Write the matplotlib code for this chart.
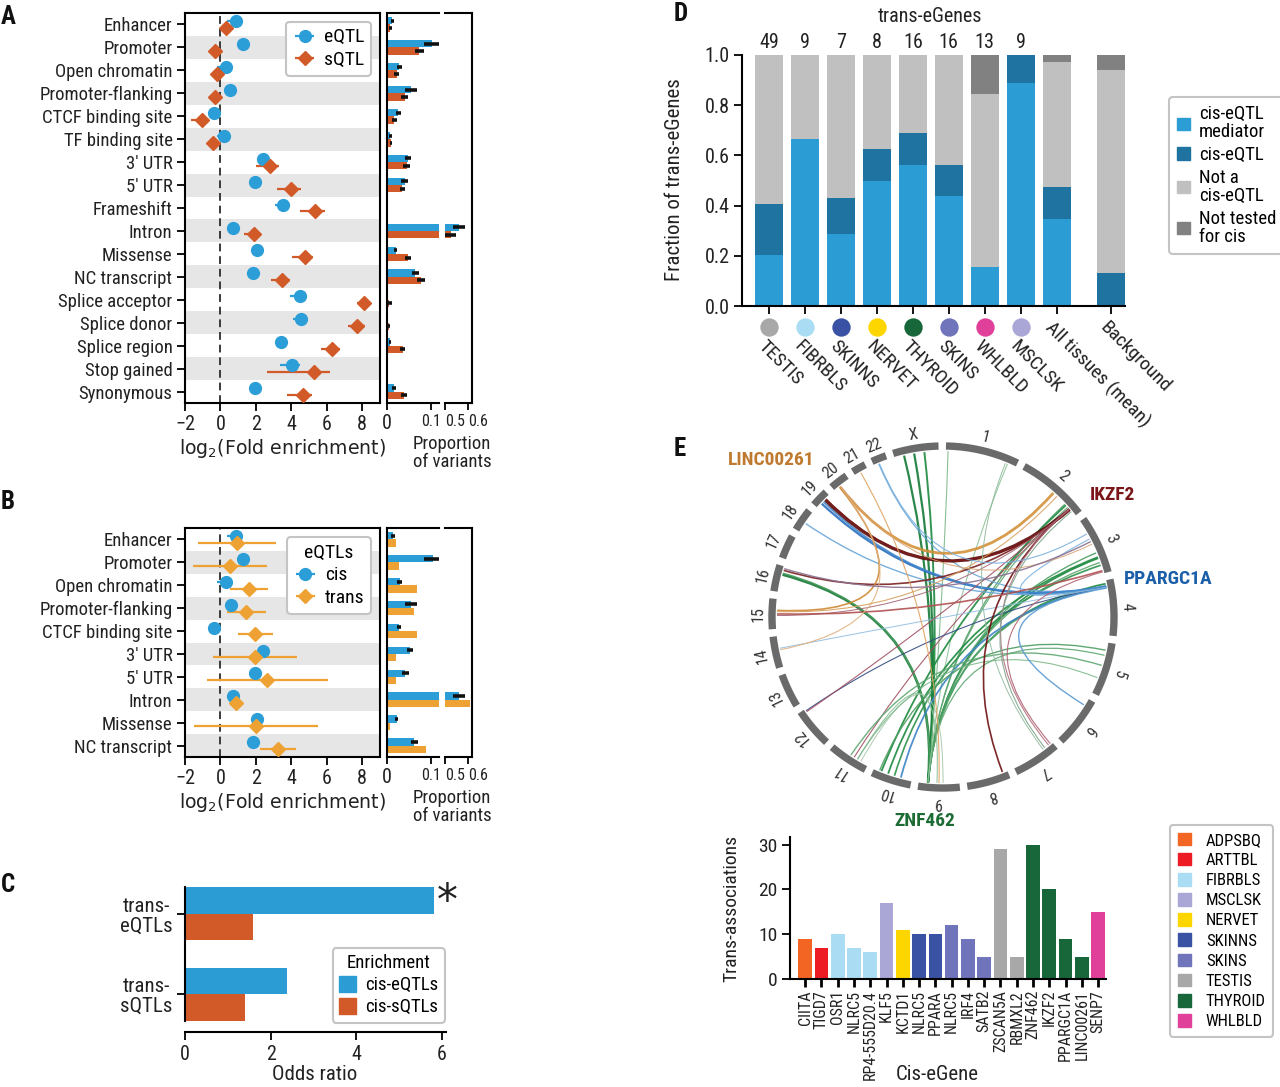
import numpy as np
import matplotlib
matplotlib.use('Agg')
import matplotlib.pyplot as plt
from matplotlib import font_manager
from matplotlib.patches import Patch, PathPatch
from matplotlib.path import Path
import matplotlib.transforms as mtransforms

names = {f.name for f in font_manager.fontManager.ttflist}
NARROW = 'Liberation Sans'
for p in ['Roboto Condensed', 'Liberation Sans Narrow', 'Archivo Narrow', 'Noto Sans Condensed']:
    if p in names:
        NARROW = p
        break
plt.rcParams['font.family'] = [NARROW, 'DejaVu Sans']
plt.rcParams['axes.linewidth'] = 1.5
plt.rcParams['xtick.major.width'] = 1.3
plt.rcParams['ytick.major.width'] = 1.3

# ---------------- data ----------------
a_categories = ['Enhancer', 'Promoter', 'Open chromatin', 'Promoter-flanking', 'CTCF binding site',
                'TF binding site', "3' UTR", "5' UTR", 'Frameshift', 'Intron', 'Missense',
                'NC transcript', 'Splice acceptor', 'Splice donor', 'Splice region', 'Stop gained',
                'Synonymous']
a_eqtl_fe = [0.90, 1.27, 0.32, 0.56, -0.37, 0.22, 2.40, 1.97, 3.52, 0.69, 2.08, 1.84, 4.48, 4.55, 3.41, 4.04, 1.97]
a_eqtl_lo = [0.37, 1.15, -0.19, 0.40, -0.50, -0.19, 2.25, 1.85, 3.09, 0.60, 1.98, 1.72, 3.93, 4.08, 3.20, 3.37, 1.88]
a_eqtl_hi = [1.25, 1.40, 0.66, 0.72, -0.25, 0.55, 2.55, 2.10, 3.93, 0.80, 2.18, 1.96, 4.87, 4.90, 3.62, 4.49, 2.06]
a_sqtl_fe = [0.34, -0.28, -0.22, -0.32, -1.03, -0.41, 2.77, 4.00, 5.36, 1.87, 4.78, 3.48, 8.11, 7.73, 6.29, 5.28, 4.63]
a_sqtl_lo = [0.20, -0.40, -0.35, -0.45, -1.65, -0.55, 1.98, 3.18, 4.49, 1.31, 4.03, 2.85, 7.68, 7.21, 5.67, 2.62, 3.78]
a_sqtl_hi = [0.48, -0.15, -0.10, -0.20, -0.62, -0.27, 3.28, 4.53, 5.90, 2.25, 5.24, 3.93, 8.43, 8.15, 6.74, 6.18, 5.19]
a_eqtl_prop = [0.0125, 0.104, 0.028, 0.055, 0.026, 0.008, 0.049, 0.041, 0.0008, 0.562, 0.020, 0.065, 0.001, 0.0006, 0.007, 0.0004, 0.016]
a_eqtl_prop_err = [0.004, 0.020, 0.006, 0.013, 0.005, 0.003, 0.007, 0.008, 0.0, 0.027, 0.004, 0.008, 0.0, 0.0, 0.003, 0.0, 0.004]
a_sqtl_prop = [0.008, 0.074, 0.022, 0.041, 0.017, 0.009, 0.045, 0.035, 0.0008, 0.526, 0.048, 0.078, 0.005, 0.004, 0.036, 0.0004, 0.039]
a_sqtl_prop_err = [0.003, 0.010, 0.005, 0.008, 0.005, 0.003, 0.008, 0.006, 0.0, 0.024, 0.006, 0.010, 0.006, 0.003, 0.006, 0.0, 0.006]

b_categories = ['Enhancer', 'Promoter', 'Open chromatin', 'Promoter-flanking', 'CTCF binding site',
                "3' UTR", "5' UTR", 'Intron', 'Missense', 'NC transcript']
b_cis_fe = [0.86, 1.25, 0.32, 0.58, -0.39, 2.40, 1.97, 0.69, 2.08, 1.84]
b_cis_lo = [0.37, 1.15, -0.19, 0.40, -0.50, 2.25, 1.85, 0.60, 1.98, 1.72]
b_cis_hi = [1.25, 1.40, 0.66, 0.72, -0.25, 2.55, 2.10, 0.80, 2.18, 1.96]
b_trans_fe = [0.94, 0.56, 1.59, 1.46, 1.97, 1.97, 2.62, 0.90, 2.00, 3.22]
b_trans_lo = [-1.25, -1.54, 0.56, 0.37, 0.97, -0.41, -0.75, 0.56, -1.50, 2.21]
b_trans_hi = [3.15, 2.62, 2.66, 2.57, 2.96, 4.31, 6.05, 1.22, 5.49, 4.27]
b_cis_prop = [0.014, 0.105, 0.029, 0.055, 0.028, 0.052, 0.042, 0.562, 0.022, 0.062]
b_cis_prop_err = [0.004, 0.020, 0.006, 0.013, 0.005, 0.007, 0.008, 0.027, 0.004, 0.008]
b_trans_prop = [0.021, 0.028, 0.069, 0.063, 0.069, 0.021, 0.021, 0.610, 0.008, 0.090]

c_categories = ['trans-\neQTLs', 'trans-\nsQTLs']
c_cis_eqtl_or = [5.81, 2.39]
c_cis_sqtl_or = [1.60, 1.40]

d_tissues = ['TESTIS', 'FIBRBLS', 'SKINNS', 'NERVET', 'THYROID', 'SKINS', 'WHLBLD', 'MSCLSK',
             'All tissues (mean)', 'Background']
d_counts = ['49', '9', '7', '8', '16', '16', '13', '9']
d_mediator = [0.204, 0.667, 0.286, 0.500, 0.5625, 0.4375, 0.154, 0.889, 0.346, 0.0]
d_cis = [0.204, 0.0, 0.143, 0.125, 0.125, 0.125, 0.0, 0.111, 0.128, 0.132]
d_not_cis = [0.592, 0.333, 0.571, 0.375, 0.3125, 0.4375, 0.692, 0.0, 0.500, 0.810]
d_not_tested = [0.0, 0.0, 0.0, 0.0, 0.0, 0.0, 0.154, 0.0, 0.026, 0.058]
d_series = ['cis-eQTL\nmediator', 'cis-eQTL', 'Not a\ncis-eQTL', 'Not tested\nfor cis']

tissue_names = ['ADPSBQ', 'ARTTBL', 'FIBRBLS', 'MSCLSK', 'NERVET', 'SKINNS', 'SKINS', 'TESTIS', 'THYROID', 'WHLBLD']
tissue_colors = ['#F26522', '#ED1C24', '#AADDF3', '#AAA6D6', '#FDD600', '#3A52A3', '#6F74BB', '#A8A8A8', '#18673A', '#E0409A']

e_genes = ['CIITA', 'TIGD7', 'OSR1', 'NLRC5', 'RP4-555D20.4', 'KLF5', 'KCTD1', 'NLRC5', 'PPARA', 'NLRC5',
           'IRF4', 'SATB2', 'ZSCAN5A', 'RBMXL2', 'ZNF462', 'IKZF2', 'PPARGC1A', 'LINC00261', 'SENP7']
e_counts = [9, 7, 10, 7, 6, 17, 11, 10, 10, 12, 9, 5, 29, 5, 30, 20, 9, 5, 15]
e_tissue = ['ADPSBQ', 'ARTTBL', 'FIBRBLS', 'FIBRBLS', 'FIBRBLS', 'MSCLSK', 'NERVET', 'SKINNS', 'SKINNS',
            'SKINS', 'SKINS', 'SKINS', 'TESTIS', 'TESTIS', 'THYROID', 'THYROID', 'THYROID', 'THYROID', 'WHLBLD']

chrom_names = ['1', '2', '3', '4', '5', '6', '7', '8', '9', '10', '11', '12', '13', '14', '15', '16',
               '17', '18', '19', '20', '21', '22', 'X']
chrom_sizes_mb = [249, 243, 198, 191, 181, 171, 159, 146, 141, 136, 135, 134, 115, 107, 103, 90,
                  81, 78, 59, 63, 48, 51, 155]

link_chr_a = ['9', '9', '9', '9', '9', '9', '9', '9', '9', '9', '9', '9', '9', '9', '9',
              '10', '10', '10', '10', '11', '11', '11', '5', '5', '5',
              '4', '4', '4', '4', '4', '4', '4', '4',
              '2', '2', '2', '2', '2', '2', '2', '3', '3',
              '20', '20', '20', '21', '20', '15', '3', '7', '7', '22']
link_pos_a = [0.77, 0.77, 0.77, 0.77, 0.77, 0.77, 0.77, 0.77, 0.77, 0.77, 0.77, 0.77, 0.77, 0.77, 0.77,
              0.80, 0.62, 0.45, 0.28, 0.30, 0.20, 0.40, 0.15, 0.45, 0.70,
              0.12, 0.13, 0.11, 0.12, 0.14, 0.12, 0.12, 0.10,
              0.88, 0.89, 0.88, 0.88, 0.87, 0.87, 0.88, 0.95, 0.97,
              0.36, 0.34, 0.38, 0.45, 0.40, 0.58, 0.40, 0.20, 0.25, 0.40]
link_chr_b = ['X', 'X', 'X', '1', '16', '16', '2', '2', '3', '3', '3', '4', '4', '5', '1',
              '2', '3', '3', '4', '9', '9', '2', '10', '11', '11',
              '19', '18', '22', '12', '6', '3', '14', '19',
              '19', '19', '16', '12', '8', '7', '15', '15', '7',
              '2', '15', '14', '9', '3', '2', '16', '2', '1', '3']
link_pos_b = [0.22, 0.45, 0.68, 0.03, 0.68, 0.74, 0.78, 0.84, 0.62, 0.72, 0.80, 0.06, 0.10, 0.25, 0.88,
              0.80, 0.70, 0.85, 0.12, 0.55, 0.40, 0.88, 0.85, 0.50, 0.30,
              0.35, 0.45, 0.35, 0.95, 0.15, 0.35, 0.60, 0.50,
              0.65, 0.72, 0.85, 0.92, 0.12, 0.10, 0.45, 0.50, 0.05,
              0.55, 0.62, 0.55, 0.50, 0.45, 0.62, 0.92, 0.92, 0.85, 0.25]
link_color = ['#157A36', '#157A36', '#1E8A40', '#7DB88A', '#157A36', '#4E9E62', '#4E9E62', '#5FA872',
              '#4E9E62', '#1E8A40', '#5FA872', '#1E8A40', '#5FA872', '#5FA872', '#8FC49A',
              '#1E8A40', '#1E8A40', '#2A9048', '#3D85C6', '#8FBF98', '#A3C4A8', '#A05060',
              '#4E9E62', '#5FA872', '#7DB88A',
              '#2A6FBF', '#6AA6D8', '#6AA6D8', '#304A80', '#5A9AD0', '#7AB0DC', '#8DBBE0', '#3F86CC',
              '#5A0A0A', '#7A1A1A', '#7A2020', '#A05060', '#6E1010', '#B07080', '#A06070', '#B05050', '#B06070',
              '#D4913A', '#D08A35', '#E0B080', '#E0A060', '#D8A070', '#D8A060', '#8A7090', '#7FA58A',
              '#8FB89A', '#7AB0DC']
link_width = [1.6, 1.6, 1.4, 0.8, 1.9, 1.0, 0.9, 0.9, 1.0, 1.2, 1.0, 1.3, 0.9, 0.9, 0.8,
              1.3, 1.3, 1.2, 1.3, 0.8, 0.7, 0.8, 1.0, 1.0, 0.8,
              1.6, 1.0, 0.9, 0.8, 1.0, 0.8, 0.7, 1.2,
              2.4, 1.2, 1.2, 0.8, 1.2, 0.8, 0.7, 1.2, 0.8,
              2.0, 1.2, 0.8, 0.8, 0.7, 0.8, 1.0, 0.8, 0.7, 0.8]

# ---------------- styling ----------------
BLUE = '#2B9ED7'
ORANGE = '#D25A28'
GOLD = '#EFA234'
BAND = '#E6E6E6'
TXT = '#222222'
MED, CIS, NOTA, NOTT = '#2B9CD4', '#1F73A0', '#C0C0C0', '#818181'
LEG = dict(frameon=True, fancybox=True, edgecolor='#c4c4c4', framealpha=1, borderaxespad=0)

W, H = 1280, 1087
fig = plt.figure(figsize=(W / 100, H / 100), dpi=100)


def px_axes(l, t, r, b):
    return fig.add_axes([l / W, 1 - b / H, (r - l) / W, (b - t) / H])


def ftext(x, y, s, **kw):
    return fig.text(x / W, 1 - y / H, s, **kw)


def forest(top, bottom, cats, fe1, lo1, hi1, fe2, lo2, hi2, p1, p1e, p2, p2e, c2,
           leg_labels, leg_title, leg_anchor):
    n = len(cats)
    y = np.arange(n)
    fe1, lo1, hi1 = map(np.array, (fe1, lo1, hi1))
    fe2, lo2, hi2 = map(np.array, (fe2, lo2, hi2))
    ax = px_axes(185, top, 380, bottom)
    for i in range(1, n, 2):
        ax.axhspan(i - 0.5, i + 0.5, color=BAND, lw=0, zorder=0)
    ax.axvline(0, color='#3a3a3a', lw=1.4, ls=(0, (4, 2.5)), zorder=1)
    h1 = ax.errorbar(fe1, y - 0.15, xerr=[fe1 - lo1, hi1 - fe1], fmt='o', ms=8.5, color=BLUE,
                     ecolor=BLUE, elinewidth=1.6, capsize=0, zorder=3)
    h2 = ax.errorbar(fe2, y + 0.15, xerr=[fe2 - lo2, hi2 - fe2], fmt='D', ms=7, color=c2,
                     ecolor=c2, elinewidth=1.6, capsize=0, zorder=3)
    ax.set_xlim(-2, 9)
    ax.set_ylim(n - 0.5, -0.5)
    ax.set_yticks(y)
    ax.set_yticklabels(cats, fontsize=13.5, color=TXT)
    ax.set_xticks([-2, 0, 2, 4, 6, 8])
    ax.set_xticklabels(['\u22122', '0', '2', '4', '6', '8'], fontsize=14.5, color=TXT)
    ax.tick_params(length=6, pad=3)
    leg = ax.legend([h1, h2], leg_labels, title=leg_title, loc='upper right', bbox_to_anchor=leg_anchor,
                    fontsize=14, title_fontsize=14, handlelength=1.2, handletextpad=0.4,
                    borderpad=0.35, labelspacing=0.25, **LEG)
    leg.get_frame().set_linewidth(1.5)
    ftext(282, bottom + 46, 'log$_2$(Fold enrichment)', fontsize=13.6, family='DejaVu Sans',
          ha='center', va='center', color=TXT)

    axp1 = px_axes(387, top, 439.3, bottom)
    axp2 = px_axes(445, top, 471.7, bottom)
    for axp in (axp1, axp2):
        axp.barh(y - 0.16, p1, height=0.32, color=BLUE, zorder=2)
        axp.barh(y + 0.16, p2, height=0.32, color=c2, zorder=2)
        axp.errorbar(p1, y - 0.16, xerr=p1e, fmt='none', ecolor='#111111', elinewidth=2.6, capsize=0, zorder=3)
        if p2e is not None:
            axp.errorbar(p2, y + 0.16, xerr=p2e, fmt='none', ecolor='#111111', elinewidth=2.6, capsize=0, zorder=3)
        axp.set_ylim(n - 0.5, -0.5)
        axp.set_yticks([])
        axp.tick_params(axis='x', length=5, pad=3)
    axp1.set_xlim(0, 0.12)
    axp2.set_xlim(0.5, 0.6176)
    axp1.spines['right'].set_visible(False)
    axp2.spines['left'].set_visible(False)
    axp1.set_xticks([0, 0.1])
    axp1.set_xticklabels(['0', '0.1'], color=TXT)
    axp1.get_xticklabels()[0].set_fontsize(14.5)
    axp1.get_xticklabels()[1].set_fontsize(11.5)
    axp2.set_xticks([0.5, 0.6])
    axp2.set_xticklabels(['0.5', '0.6'], fontsize=11.5, color=TXT, ha='left')
    ftext(452, bottom + 50, 'Proportion\nof variants', fontsize=13.5, ha='center', va='center',
          linespacing=1.05, color=TXT)


forest(13, 403, a_categories, a_eqtl_fe, a_eqtl_lo, a_eqtl_hi, a_sqtl_fe, a_sqtl_lo, a_sqtl_hi,
       a_eqtl_prop, a_eqtl_prop_err, a_sqtl_prop, a_sqtl_prop_err, ORANGE,
       ['eQTL', 'sQTL'], None, (0.955, 0.978))
forest(528, 757, b_categories, b_cis_fe, b_cis_lo, b_cis_hi, b_trans_fe, b_trans_lo, b_trans_hi,
       b_cis_prop, b_cis_prop_err, b_trans_prop, None, GOLD,
       ['cis', 'trans'], 'eQTLs', (0.955, 0.962))

# ---------------- panel C ----------------
axC = px_axes(185, 887, 446, 1021)
yc = np.arange(len(c_categories))
axC.barh(yc - 0.165, c_cis_eqtl_or, height=0.33, color=MED)
axC.barh(yc + 0.165, c_cis_sqtl_or, height=0.33, color=ORANGE)
axC.set_ylim(1.33, -0.33)
axC.set_xlim(0, 6.1)
axC.spines['top'].set_visible(False)
axC.spines['right'].set_visible(False)
axC.spines['bottom'].set_position(('outward', 8))
axC.set_yticks(yc)
axC.set_yticklabels(c_categories, fontsize=15, color=TXT, multialignment='center', linespacing=1.05)
axC.set_xticks([0, 2, 4, 6])
axC.set_xticklabels(['0', '2', '4', '6'], fontsize=14.5, color=TXT)
axC.tick_params(length=6, pad=3)
axC.text(c_cis_eqtl_or[0] + 0.07, -0.14, '*', fontsize=30, family='DejaVu Sans', ha='left', va='center',
         color=TXT)
ftext(315, 1075, 'Odds ratio', fontsize=15, ha='center', va='center', color=TXT)
legC = fig.legend([Patch(color=MED), Patch(color=ORANGE)], ['cis-eQTLs', 'cis-sQTLs'], title='Enrichment',
                  loc='lower right', bbox_to_anchor=(445 / W, 1 - 1023 / H), fontsize=13.5,
                  title_fontsize=13.5, handlelength=0.9, handleheight=0.9, handletextpad=0.5,
                  borderpad=0.35, labelspacing=0.2, **LEG)
legC.get_frame().set_linewidth(1.5)

# ---------------- panel D ----------------
axD = px_axes(742, 55, 1125, 306)
xd = np.r_[np.arange(9), 9.5]
bottom = np.zeros(len(xd))
handles = []
for vals, col in zip([d_mediator, d_cis, d_not_cis, d_not_tested], [MED, CIS, NOTA, NOTT]):
    axD.bar(xd, vals, bottom=bottom, width=0.78, color=col, lw=0)
    bottom = bottom + np.array(vals)
    handles.append(Patch(color=col))
axD.set_xlim(-0.75, 9.9)
axD.set_ylim(0, 1.0)
axD.spines['top'].set_visible(False)
axD.spines['right'].set_visible(False)
axD.set_yticks([0, 0.2, 0.4, 0.6, 0.8, 1.0])
axD.set_yticklabels(['0.0', '0.2', '0.4', '0.6', '0.8', '1.0'], fontsize=14.5, color=TXT)
axD.set_xticks(xd)
axD.set_xticklabels([])
axD.tick_params(length=6, pad=3)
trD = mtransforms.blended_transform_factory(axD.transData, axD.transAxes)


def d_yfrac(ypx):
    return (306 - ypx) / (306 - 55)


for i, c in enumerate(d_counts):
    axD.text(xd[i], d_yfrac(43), c, transform=trD, ha='center', va='center', fontsize=14.5, color=TXT)
for i, t in enumerate(d_tissues):
    if t in tissue_names:
        axD.scatter([xd[i]], [d_yfrac(327)], s=175, color=tissue_colors[tissue_names.index(t)],
                    transform=trD, clip_on=False, lw=0)
        ystart = 337
    else:
        ystart = 318
    axD.text(xd[i] - 0.05, d_yfrac(ystart), t, transform=trD, rotation=-45, rotation_mode='anchor',
             ha='left', va='top', fontsize=14, color=TXT)
ftext(930, 16, 'trans-eGenes', fontsize=14.5, ha='center', va='center', color=TXT)
ftext(674, 180, 'Fraction of trans-eGenes', fontsize=15, rotation=90, ha='center', va='center', color=TXT)
legD = fig.legend(handles, d_series, loc='upper left', bbox_to_anchor=(1169 / W, 1 - 97 / H), fontsize=13.5,
                  handlelength=0.65, handleheight=0.65, handletextpad=0.5, borderpad=0.45,
                  labelspacing=0.25, **LEG)
legD.get_frame().set_linewidth(1.5)
for t in legD.get_texts():
    t.set_linespacing(1.0)

# ---------------- panel E: circos ----------------
axO = px_axes(743, 417, 1143, 817)
axO.set_xlim(-200, 200)
axO.set_ylim(-200, 200)
axO.axis('off')
GAP, START = 2.5, 1.0
scale = (360 - GAP * len(chrom_sizes_mb)) / sum(chrom_sizes_mb)
chrom_start, chrom_span = [], []
acc = START
for s in chrom_sizes_mb:
    chrom_start.append(acc)
    chrom_span.append(s * scale)
    acc += s * scale + GAP
R_ARC, R_IN, R_LAB = 171, 166, 185
for name, st, sp in zip(chrom_names, chrom_start, chrom_span):
    th = np.deg2rad(np.linspace(st, st + sp, 60))
    axO.plot(R_ARC * np.sin(th), R_ARC * np.cos(th), color='#6a6a6a', lw=5.3, solid_capstyle='butt')
    mid = st + sp / 2
    axO.text(R_LAB * np.sin(np.deg2rad(mid)), R_LAB * np.cos(np.deg2rad(mid)), name, rotation=-mid,
             rotation_mode='anchor', ha='center', va='center', fontsize=11.5, color='#333333')


def cpos(c, f):
    i = chrom_names.index(c)
    a = np.deg2rad(chrom_start[i] + f * chrom_span[i])
    return R_IN * np.sin(a), R_IN * np.cos(a)


for ca, pa, cb, pb, col, lw in zip(link_chr_a, link_pos_a, link_chr_b, link_pos_b, link_color, link_width):
    path = Path([cpos(ca, pa), (0, 0), cpos(cb, pb)], [Path.MOVETO, Path.CURVE3, Path.CURVE3])
    axO.add_patch(PathPatch(path, fc='none', ec=col, lw=lw, alpha=0.9))

ftext(771, 460, 'LINC00261', fontsize=14, fontweight='bold', color='#C07A30', ha='center', va='center')
ftext(1112, 495, 'IKZF2', fontsize=14, fontweight='bold', color='#7A1518', ha='center', va='center')
ftext(1168, 579, 'PPARGC1A', fontsize=14, fontweight='bold', color='#1B5FA8', ha='center', va='center')
ftext(925, 821, 'ZNF462', fontsize=14, fontweight='bold', color='#1D6B35', ha='center', va='center')

# ---------------- panel E: bar chart ----------------
axE = px_axes(790, 837, 1105.5, 979)
xe = np.arange(len(e_genes))
axE.bar(xe, e_counts, width=0.84, color=[tissue_colors[tissue_names.index(t)] for t in e_tissue], lw=0)
axE.set_xlim(-0.93, 18.45)
axE.set_ylim(0, 31.7)
axE.spines['top'].set_visible(False)
axE.spines['right'].set_visible(False)
axE.set_yticks([0, 10, 20, 30])
axE.set_yticklabels(['0', '10', '20', '30'], fontsize=14, color=TXT)
axE.set_xticks(xe)
axE.set_xticklabels(e_genes, rotation=90, fontsize=11.5, color=TXT)
axE.tick_params(axis='x', length=6, width=2, pad=2)
axE.tick_params(axis='y', length=6, pad=3)
ftext(731, 908, 'Trans-associations', fontsize=14, rotation=90, ha='center', va='center', color=TXT)
ftext(937, 1075, 'Cis-eGene', fontsize=15, ha='center', va='center', color=TXT)
legE = fig.legend([Patch(color=c) for c in tissue_colors], tissue_names, loc='upper left',
                  bbox_to_anchor=(1170 / W, 1 - 825 / H), fontsize=12, handlelength=0.8, handleheight=0.8,
                  handletextpad=0.9, borderpad=0.45, labelspacing=0.3, **LEG)
legE.get_frame().set_linewidth(1.5)

for letter, (x, y) in zip('ABCDE', [(8, 17), (8, 502), (8, 885), (681, 14), (680, 449)]):
    ftext(x, y, letter, fontsize=18, fontweight='bold', ha='center', va='center', color='#111111')

fig.savefig('out.png', dpi=100)
